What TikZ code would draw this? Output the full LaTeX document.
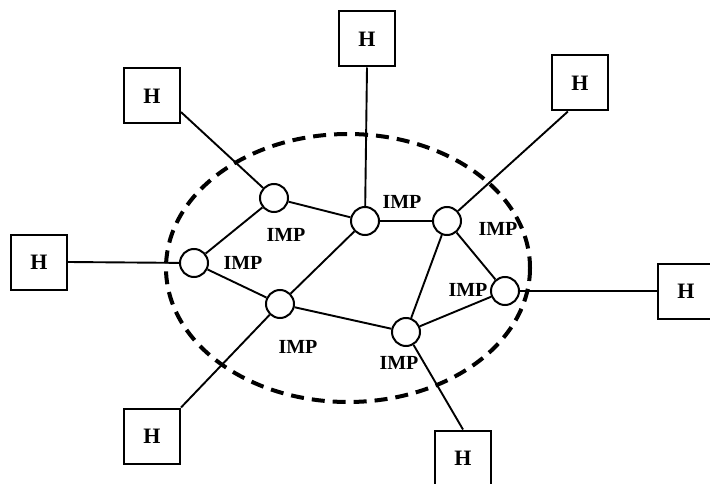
\documentclass[tikz,border=0pt]{standalone}
\usepackage{fontspec}
\setmainfont{Liberation Serif}
\begin{document}
\begin{tikzpicture}[x=1pt,y=-1pt,
  imp/.style={circle,draw,line width=2pt,fill=white,minimum size=28pt,inner sep=0pt},
  host/.style={rectangle,draw,line width=2pt,fill=white,minimum width=56pt,minimum height=55pt,inner sep=0pt,font=\bfseries\fontsize{22}{22}\selectfont},
  tag/.style={font=\bfseries\fontsize{20}{20}\selectfont,inner sep=0pt},
  link/.style={line width=1.9pt},
  subnet/.style={line width=4pt,dash pattern=on 13pt off 8pt}]
\useasboundingbox (0,0) rectangle (710,484);
\clip (0,0) rectangle (710,484);

% subnet boundary
\draw[subnet] (348,268) ellipse [x radius=182, y radius=134];

% IMPs
\node[imp] (A) at (274,198) {};
\node[imp] (B) at (194,263) {};
\node[imp] (C) at (280,304) {};
\node[imp] (D) at (365,221) {};
\node[imp] (E) at (447,221) {};
\node[imp] (F) at (505,291) {};
\node[imp] (G) at (406,332) {};

% hosts
\node[host] (h1) at (152,96) {H};
\node[host] (h2) at (367,39) {H};
\node[host] (h3) at (580,83) {H};
\node[host] (h4) at (39,262) {H};
\node[host] (h5) at (686,291) {H};
\node[host] (h6) at (152,436) {H};
\node[host] (h7) at (463,458) {H};

% IMP labels
\node[tag] at (286,235) {IMP};
\node[tag] at (243,263) {IMP};
\node[tag] at (298,347) {IMP};
\node[tag] at (402,202) {IMP};
\node[tag] at (498,229) {IMP};
\node[tag] at (468,290) {IMP};
\node[tag] at (399,363) {IMP};

% IMP-IMP lines
\draw[link] (A) -- (B);
\draw[link] (A) -- (D);
\draw[link] (B) -- (C);
\draw[link] (C) -- (D);
\draw[link] (D) -- (E);
\draw[link] (E) -- (F);
\draw[link] (E) -- (G);
\draw[link] (F) -- (G);
\draw[link] (C) -- (G);

% host-IMP lines
\draw[link] (h1.-29) -- (A);
\draw[link] (h2.south) -- (D);
\draw[link] (h3.-113) -- (E);
\draw[link] (h4.east) -- (B);
\draw[link] (h5.west) -- (F);
\draw[link] (h6.north east) -- (C);
\draw[link] (h7.north) -- (G);
\end{tikzpicture}
\end{document}
